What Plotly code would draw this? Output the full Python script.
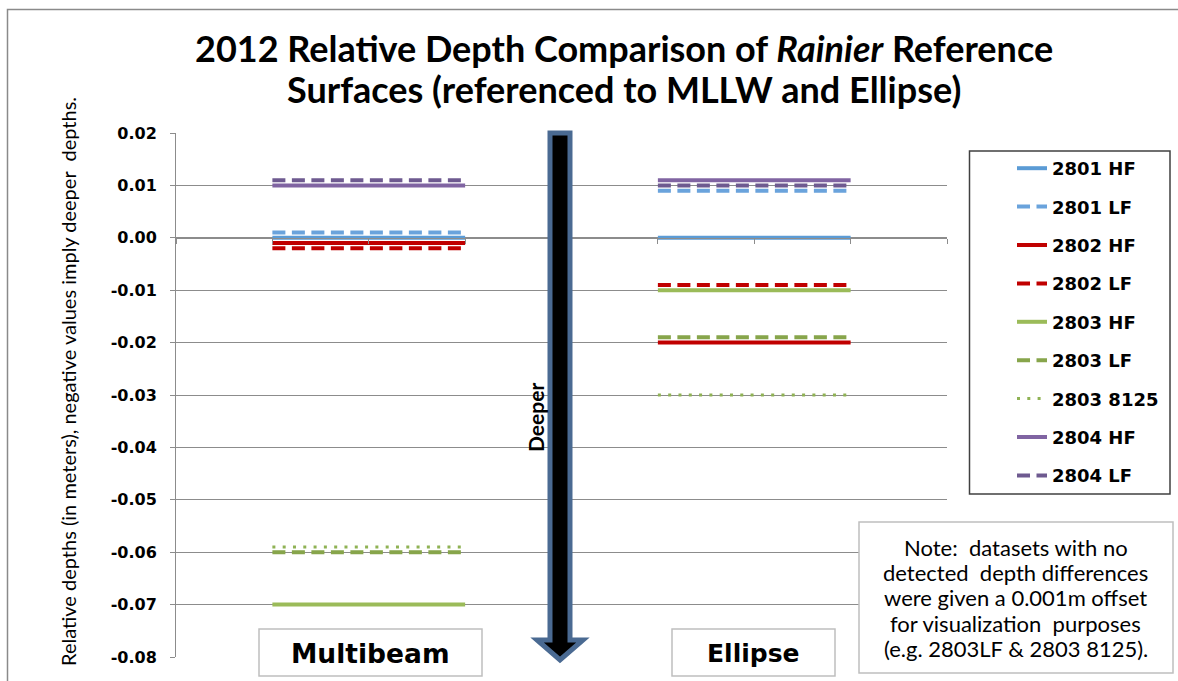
import plotly.graph_objects as go

# ---------------- data ----------------
series_names = ["2801 HF", "2801 LF", "2802 HF", "2802 LF", "2803 HF",
                "2803 LF", "2803 8125", "2804 HF", "2804 LF"]
multibeam_values = [0.000, 0.001, -0.001, -0.002, -0.070, -0.060, -0.059, 0.010, 0.011]
ellipse_values = [0.000, 0.009, -0.020, -0.009, -0.010, -0.019, -0.030, 0.011, 0.010]
group_labels = ["Multibeam", "Ellipse"]
group_spans = [(1, 3), (5, 7)]          # category slots covered by each group
category_ticks = list(range(0, 9))
y_tick_values = [0.02, 0.01, 0.00, -0.01, -0.02, -0.03, -0.04, -0.05, -0.06, -0.07, -0.08]
y_tick_labels = ["0.02", "0.01", "0.00", "-0.01", "-0.02", "-0.03", "-0.04",
                 "-0.05", "-0.06", "-0.07", "-0.08"]
title_lines = ["2012 Relative Depth Comparison of <i>Rainier</i> Reference",
               "Surfaces (referenced to MLLW and Ellipse)"]
note_lines = ["Note:  datasets with no", "detected  depth differences",
              "were given a 0.001m offset", "for visualization  purposes",
              "(e.g. 2803LF &amp; 2803 8125)."]

# ---------------- styles ----------------
series_colors = ["#5B9BD5", "#6AA3DC", "#C00000", "#C00000", "#9BBB59",
                 "#87A54B", "#8FB254", "#8064A2", "#6E5A90"]
series_dashes = ["solid", "13px,6.5px", "solid", "13px,6.5px", "solid",
                 "13px,6.5px", "3px,7.3px", "solid", "13px,6.5px"]
series_widths = [4, 4, 4, 4, 4, 4, 3, 4, 4]

W, H = 1178, 681
PL, PR, PT, PB = 176, 947, 133, 657   # plot area in pixels


def X(px):
    return (px - PL) / (PR - PL)


def Y(py):
    return (PB - py) / (PB - PT)


fig = go.Figure()
for i, name in enumerate(series_names):
    xs, ys = [], []
    for (a, b), vals in zip(group_spans, [multibeam_values, ellipse_values]):
        xs += [a, b, None]
        ys += [vals[i], vals[i], None]
    fig.add_trace(go.Scatter(
        x=xs, y=ys, mode="lines", name=name, legendgroup=name,
        line=dict(color=series_colors[i], width=series_widths[i], dash=series_dashes[i]),
        connectgaps=False, hoverinfo="name+y"))

GRID = "#8C8C8C"
shapes = []
# outer chart border
shapes.append(dict(type="rect", xref="paper", yref="paper", x0=X(7.5), x1=X(1200),
                   y0=Y(720), y1=Y(9.5), line=dict(color="#8A8A8A", width=1.5),
                   fillcolor="rgba(0,0,0,0)", layer="below"))
# big "Deeper" arrow
cx = 560
pts = [(cx - 10, 133), (cx + 10, 133), (cx + 10, 640), (cx + 23, 640), (cx, 660),
       (cx - 23, 640), (cx - 10, 640)]
path = "M " + " L ".join(f"{X(a):.5f},{Y(b):.5f}" for a, b in pts) + " Z"
shapes.append(dict(type="path", xref="paper", yref="paper", path=path,
                   fillcolor="#000000", line=dict(color="#4A6A92", width=5), layer="above"))
# group label boxes
for (x0, x1) in [(259, 482), (672, 835)]:
    shapes.append(dict(type="rect", xref="paper", yref="paper", x0=X(x0), x1=X(x1),
                       y0=Y(676), y1=Y(629), fillcolor="white",
                       line=dict(color="#BFBFBF", width=1.5), layer="above"))
# note box
shapes.append(dict(type="rect", xref="paper", yref="paper", x0=X(859), x1=X(1173),
                   y0=Y(673), y1=Y(522), fillcolor="white",
                   line=dict(color="#BFBFBF", width=1.5), layer="above"))
# legend box
shapes.append(dict(type="rect", xref="paper", yref="paper", x0=X(969.5), x1=X(1170),
                   y0=Y(494), y1=Y(151), fillcolor="white",
                   line=dict(color="#404040", width=1.5), layer="above"))

annotations = []
for k, line in enumerate(title_lines):
    annotations.append(dict(
        text=f"<b>{line}</b>", xref="paper", yref="paper", x=X(624), y=Y(48 + 41 * k),
        xanchor="center", yanchor="middle", showarrow=False,
        font=dict(family="Lato", size=36, color="black")))
annotations.append(dict(
    text="Relative depths (in meters), negative values imply deeper&nbsp; depths.",
    xref="paper", yref="paper", x=X(68), y=Y(382), xanchor="center", yanchor="middle",
    textangle=-90, showarrow=False, font=dict(family="Lato", size=20, color="black")))
annotations.append(dict(
    text="<b>Deeper</b>", xref="paper", yref="paper", x=X(535), y=Y(418),
    xanchor="center", yanchor="middle", textangle=-90, showarrow=False,
    font=dict(family="Lato", size=21, color="black")))
for lbl, (x0, x1), sz in zip(group_labels, [(259, 482), (672, 835)], [26.5, 25]):
    annotations.append(dict(
        text=f"<b>{lbl}</b>", xref="paper", yref="paper", x=X((x0 + x1) / 2), y=Y(653),
        xanchor="center", yanchor="middle", showarrow=False,
        font=dict(family="DejaVu Sans", size=sz, color="black")))
for k, line in enumerate(note_lines):
    annotations.append(dict(
        text=line, xref="paper", yref="paper", x=X(1016), y=Y(547 + 25.4 * k),
        xanchor="center", yanchor="middle", showarrow=False,
        font=dict(family="Lato", size=22, color="black")))

fig.update_layout(
    width=W, height=H,
    margin=dict(l=PL, r=W - PR, t=PT, b=H - PB, pad=0),
    paper_bgcolor="white", plot_bgcolor="white",
    showlegend=True,
    legend=dict(x=X(1012), y=Y(150), xanchor="left", yanchor="top",
                bgcolor="rgba(0,0,0,0)", borderwidth=0, tracegroupgap=12,
                font=dict(family="DejaVu Sans", size=18, color="black", weight="bold")),
    xaxis=dict(range=[0, 8], tickvals=category_ticks, showticklabels=False,
               ticks="outside", ticklen=5, tickcolor=GRID, showline=True,
               linecolor=GRID, linewidth=1, showgrid=False, zeroline=False,
               anchor="free", position=Y(238)),
    yaxis=dict(range=[-0.08, 0.02], tickvals=y_tick_values, ticktext=y_tick_labels,
               ticks="outside", ticklen=5, tickcolor=GRID, showline=True,
               linecolor=GRID, linewidth=1, showgrid=True, gridcolor=GRID, gridwidth=1,
               zeroline=False, ticklabelstandoff=10,
               tickfont=dict(family="DejaVu Sans", size=16, color="black", weight="bold")),
    shapes=shapes, annotations=annotations,
)

fig.write_html("out.html", config={"displayModeBar": False},
               post_script="document.body.style.margin='0px';"
                           "document.body.style.overflow='hidden';")
